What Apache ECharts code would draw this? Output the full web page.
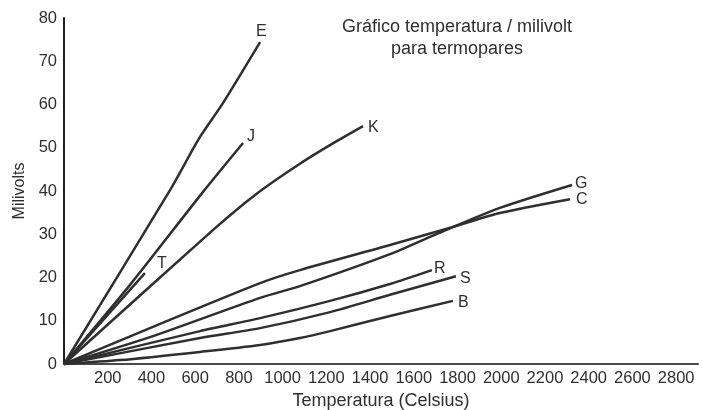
<!DOCTYPE html>
<html>
<head>
<meta charset="utf-8">
<script src="https://cdn.jsdelivr.net/npm/echarts@6/dist/echarts.min.js"></script>
<style>
  html, body { margin: 0; padding: 0; background: #ffffff; }
  #chart { width: 703px; height: 410px; }
</style>
</head>
<body>
<div id="chart"></div>
<script>
// Curvas temperatura (°C) / f.e.m. (mV) de cada termopar
const termopares = ['E', 'J', 'K', 'T', 'G', 'C', 'R', 'S', 'B'];
const curvaE = [[0, 0], [485, 40.2], [622, 52.5], [727, 60.3], [897, 74.4]];
const curvaJ = [[0, 0], [302, 18.3], [636, 39.8], [819, 51.1]];
const curvaK = [[0, 0], [682, 31.0], [874, 39.1], [1079, 46.3], [1230, 51.0], [1368, 55.0]];
const curvaT = [[0, 0], [370, 21.0]];
const curvaG = [[0, 0], [393, 6.2], [897, 15.3], [1079, 18.0], [1491, 25.4], [1706, 30.1], [1994, 36.1], [2324, 41.4]];
const curvaC = [[0, 0], [393, 8.3], [897, 18.7], [1079, 21.7], [1491, 27.5], [1779, 31.7], [1994, 34.9], [2314, 38.1]];
const curvaR = [[0, 0], [622, 7.6], [897, 10.6], [1217, 14.6], [1491, 18.5], [1683, 21.7]];
const curvaS = [[0, 0], [622, 6.0], [897, 8.3], [1217, 12.0], [1491, 16.0], [1793, 20.3]];
const curvaB = [[0, 0], [256, 0.9], [622, 2.8], [897, 4.4], [1079, 6.0], [1217, 7.6], [1491, 11.1], [1779, 14.6]];

// Escalas dos eixos
const eixoTemperatura = { min: 0, max: 2900, interval: 200 };
const eixoMilivolts = { min: 0, max: 80, interval: 10 };

const curvas = { E: curvaE, J: curvaJ, K: curvaK, T: curvaT, G: curvaG, C: curvaC, R: curvaR, S: curvaS, B: curvaB };

// Deslocamento da letra no fim de cada curva
const deslocRotulo = {
  E: [-4, -11], J: [4, -6], K: [5, 1], T: [12, -10],
  G: [3, -1], C: [6, 0], R: [2, -2], S: [4, 2], B: [5, 2]
};

const fonte = '"Liberation Sans", Arial, Helvetica, sans-serif';
const tinta = '#2f2f2f';

const chart = echarts.init(document.getElementById('chart'), null, { renderer: 'canvas' });

chart.setOption({
  animation: false,
  backgroundColor: '#ffffff',
  textStyle: { fontFamily: fonte },
  title: {
    text: 'Gráfico temperatura / milivolt\npara termopares',
    left: 452,
    top: 11,
    textAlign: 'center',
    textStyle: { fontFamily: fonte, fontSize: 18, fontWeight: 'normal', color: tinta, lineHeight: 22 }
  },
  grid: { left: 64, right: 5, top: 18, bottom: 46, containLabel: false, outerBoundsMode: 'none' },
  xAxis: {
    type: 'value',
    min: eixoTemperatura.min,
    max: eixoTemperatura.max,
    interval: eixoTemperatura.interval,
    name: 'Temperatura (Celsius)',
    nameLocation: 'middle',
    nameGap: 24,
    nameTextStyle: { fontFamily: fonte, fontSize: 18, color: tinta },
    axisLine: { show: true, lineStyle: { color: '#4a4a4a', width: 2 } },
    axisTick: { show: false },
    splitLine: { show: false },
    axisLabel: {
      show: true,
      margin: 6,
      fontFamily: fonte,
      fontSize: 16.5,
      color: tinta,
      showMinLabel: false,
      showMaxLabel: false,
      formatter: v => (v === 0 || v % 200 !== 0) ? '' : String(v)
    }
  },
  yAxis: {
    type: 'value',
    min: eixoMilivolts.min,
    max: eixoMilivolts.max,
    interval: eixoMilivolts.interval,
    name: 'Milivolts',
    nameLocation: 'middle',
    nameRotate: 90,
    nameGap: 34,
    nameTextStyle: { fontFamily: fonte, fontSize: 16, color: tinta },
    axisLine: { show: true, lineStyle: { color: '#1e1e1e', width: 2 } },
    axisTick: { show: false },
    splitLine: { show: false },
    axisLabel: { margin: 7, fontFamily: fonte, fontSize: 16.5, color: tinta }
  },
  series: termopares.map(nome => ({
    name: nome,
    type: 'line',
    data: curvas[nome],
    smooth: 0.25,
    showSymbol: false,
    symbol: 'none',
    clip: false,
    lineStyle: { color: tinta, width: 2.5 },
    endLabel: {
      show: true,
      formatter: '{a}',
      distance: 0,
      offset: deslocRotulo[nome],
      fontFamily: fonte,
      fontSize: 16,
      color: tinta
    },
    emphasis: { disabled: true }
  }))
});
</script>
</body>
</html>
